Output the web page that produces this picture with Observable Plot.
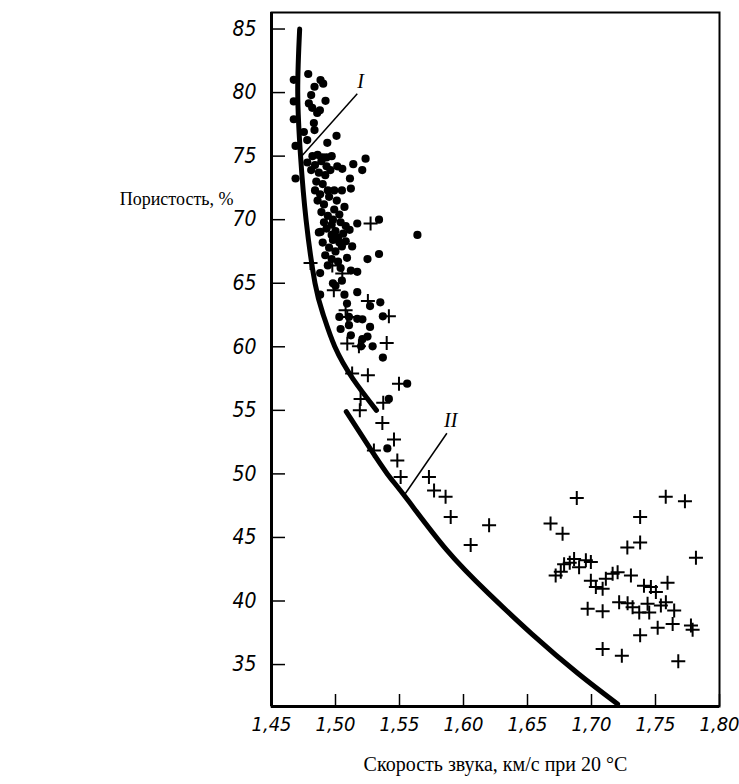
<!DOCTYPE html>
<html>
<head>
<meta charset="utf-8">
<script src="https://cdn.jsdelivr.net/npm/d3@7"></script>
<script src="https://cdn.jsdelivr.net/npm/@observablehq/plot@0.6"></script>
<style>
  html, body { margin: 0; padding: 0; background: #fff; }
  #chart { width: 739px; height: 784px; }
</style>
</head>
<body>
<div id="chart"></div>
<script>
// ---- Data ----
const xTicks = [1.45, 1.50, 1.55, 1.60, 1.65, 1.70, 1.75, 1.80];
const yTicks = [35, 40, 45, 50, 55, 60, 65, 70, 75, 80, 85];

// Filled circles
const dotsX = [1.4787,1.4674,1.4883,1.4904,1.4836,1.4674,1.481,1.4922,1.4792,1.4818,1.4878,1.4857,1.4674,1.4831,1.4836,1.4753,1.5008,1.4779,1.4936,1.4688,1.5235,1.5139,1.5209,1.5014,1.5053,1.5113,1.4688,
  1.482,1.486,1.490,1.478,1.484,1.489,1.493,1.481,1.487,1.492,1.496,1.485,1.490,1.484,1.488,1.494,1.499,1.505,1.512,1.486,1.491,1.501,1.507,1.489,1.494,1.498,1.504,1.508,1.487,1.493,1.497,1.502,1.506,1.511,1.517,1.534,1.490,1.495,1.500,1.505,1.513,1.492,1.497,1.502,1.509,1.525,1.534,1.517,1.488,1.498,1.500,1.505,1.488,1.507,1.517,1.509,1.527,1.535,1.503,1.5105,1.517,1.521,1.527,1.537,1.504,1.5105,1.512,1.521,1.525,1.529,1.520,1.537,1.564,1.556,1.5417,1.5405,1.4883,
  1.495,1.499,1.503,1.491,1.497,1.500,1.503,1.508,1.498,1.494,1.504,1.512,1.493,1.497];
const dotsY = [81.46,81.0,80.98,80.7,80.46,79.3,79.8,79.35,79.15,78.8,78.6,78.4,77.9,77.6,77.05,76.9,76.6,76.26,76.05,75.8,74.8,74.37,73.9,74.2,74.0,73.24,73.24,
  75.0,75.1,74.9,74.5,74.3,74.6,74.2,73.9,73.7,73.5,73.9,73.0,72.8,72.3,72.0,72.3,72.3,72.3,72.45,71.5,71.2,71.5,71.0,70.6,70.3,70.0,69.8,69.5,69.0,69.3,68.8,68.6,68.9,69.2,69.7,70.0,68.2,67.8,67.5,67.9,67.9,67.2,66.9,66.7,67.0,66.9,67.3,65.9,65.8,65.0,64.8,65.2,64.1,64.1,64.3,63.4,63.2,63.5,62.35,62.35,62.2,62.16,61.56,62.4,61.4,61.7,60.9,60.6,60.8,60.04,60.04,59.15,68.8,57.1,55.9,52.0,69.04,
  71.8,70.8,70.4,69.8,69.6,69.1,68.2,68.3,68.4,66.4,66.2,66.0,74.9,75.0];

// Crosses
const plusX = [1.5274,1.4805,1.4975,1.5053,1.4987,1.5079,1.5092,1.5253,1.5417,1.5092,1.5183,1.54,1.513,1.5253,1.5496,1.5196,1.519,1.5373,1.5366,1.5457,1.53,1.5483,1.5509,
  1.573,1.577,1.586,1.590,1.620,1.6056,1.668,1.6774,1.6885,
  1.6786,1.6864,1.6903,1.6956,1.6995,1.676,1.672,1.683,
  1.6995,1.7034,1.7087,1.7112,1.7165,1.7204,1.7308,
  1.7216,1.7282,1.7321,1.7373,
  1.741,1.7464,1.7503,1.7594,
  1.7438,1.7451,1.7542,1.7581,1.7646,
  1.697,1.7087,
  1.7517,1.7634,1.7777,1.779,1.738,
  1.7087,1.7237,1.7678,
  1.758,1.773,1.738,1.738,1.728,1.7816];
const plusY = [69.7,66.6,66.4,65.76,64.45,62.87,62.35,63.6,62.4,60.25,60.04,60.3,57.9,57.76,57.1,55.9,55.0,55.6,54.0,52.7,51.85,51.06,49.75,
  49.75,48.7,48.2,46.6,45.95,44.4,46.1,45.3,48.1,
  42.9,43.3,42.66,43.2,43.06,42.3,42.0,43.0,
  41.6,41.1,40.96,41.75,42.14,42.27,42.0,
  39.9,39.83,39.5,39.1,
  41.2,41.1,40.7,41.43,
  39.78,39.1,39.65,39.9,39.25,
  39.4,39.2,
  37.89,38.2,38.07,37.73,37.3,
  36.23,35.7,35.26,
  48.2,47.85,46.6,44.6,44.2,43.4];

// Curve I and curve II
const curve1X = [1.472, 1.4705, 1.4727, 1.477, 1.484, 1.4905, 1.4995, 1.5135, 1.532];
const curve1Y = [85, 80, 75, 70, 65, 62.5, 60, 57.5, 55];
const curve2X = [1.5084, 1.527, 1.5405, 1.556, 1.587, 1.6195, 1.6535, 1.6895, 1.7204];
const curve2Y = [54.9, 52.0, 50.0, 48.0, 44.0, 40.6, 37.4, 34.3, 31.9];

// Curve labels and leader lines
const labelNames = ["I", "II"];
const labelX = [1.5196, 1.590];
const labelY = [80.85, 54.2];
const leaderX1 = [1.4735, 1.5535];
const leaderY1 = [75.0, 48.3];
const leaderX2 = [1.517, 1.587];
const leaderY2 = [79.9, 53.2];

const xTitle = "Скорость звука, км/с при 20 °C";
const yTitle = "Пористость, %";

// ---- Build tables ----
const dots = dotsX.map((x, i) => ({x, y: dotsY[i]}));
const pluses = plusX.map((x, i) => ({x, y: plusY[i]}));
const c1 = curve1X.map((x, i) => ({x, y: curve1Y[i]}));
const c2 = curve2X.map((x, i) => ({x, y: curve2Y[i]}));
const labels = labelNames.map((t, i) => ({t, x: labelX[i], y: labelY[i]}));
const leaders = leaderX1.map((x1, i) => ({x1, y1: leaderY1[i], x2: leaderX2[i], y2: leaderY2[i]}));

const fmt = d => d.toFixed(2).replace(".", ",");

const crossSymbol = {
  draw(context, size) {
    const r = Math.sqrt(size / Math.PI);
    context.moveTo(-r, 0); context.lineTo(r, 0);
    context.moveTo(0, -r); context.lineTo(0, r);
  }
};

const W = 739, H = 784;
const mL = 271, mR = 20, mT = 12, mB = 78;
const frameW = W - mL - mR, frameH = H - mT - mB;
const tickFont = "'Liberation Sans Narrow', 'DejaVu Sans Condensed', sans-serif";

const chart = Plot.plot({
  width: W,
  height: H,
  marginLeft: mL,
  marginRight: mR,
  marginTop: mT,
  marginBottom: mB,
  style: {background: "#fff", color: "#000", fontFamily: tickFont},
  x: {domain: [1.45, 1.80], label: null},
  y: {domain: [31.7, 86.3], label: null},
  marks: [
    Plot.frame({stroke: "#000", strokeWidth: 2}),
    Plot.ruleX([1.45], {stroke: "#000", strokeWidth: 3}),
    Plot.ruleY([31.7], {stroke: "#000", strokeWidth: 3}),
    Plot.tickX(xTicks, {x: d => d, insetTop: frameH - 12, stroke: "#000", strokeWidth: 1.5}),
    Plot.tickY(yTicks, {y: d => d, insetRight: frameW - 14, stroke: "#000", strokeWidth: 1.5}),
    Plot.axisX({ticks: xTicks, tickSize: 0, tickPadding: 10, tickFormat: fmt, fontSize: 20, fontStyle: "italic", fontFamily: tickFont, label: null}),
    Plot.axisY({ticks: yTicks, tickSize: 0, tickPadding: 15, tickFormat: d => String(d), fontSize: 21, fontStyle: "italic", fontFamily: tickFont, label: null}),
    Plot.line(c1, {x: "x", y: "y", curve: "natural", stroke: "#000", strokeWidth: 5}),
    Plot.line(c2, {x: "x", y: "y", curve: "natural", stroke: "#000", strokeWidth: 5}),
    Plot.link(leaders, {x1: "x1", y1: "y1", x2: "x2", y2: "y2", stroke: "#000", strokeWidth: 1.5}),
    Plot.text(labels, {x: "x", y: "y", text: "t", fontSize: 20, fontStyle: "italic", fontFamily: "'Liberation Serif', serif"}),
    Plot.dot(dots, {x: "x", y: "y", r: 4.1, fill: "#000", stroke: "none"}),
    Plot.dot(pluses, {x: "x", y: "y", r: 7, symbol: crossSymbol, fill: "none", stroke: "#000", strokeWidth: 2}),
    Plot.text([xTitle], {frameAnchor: "bottom", dy: 64, fontSize: 20, fontFamily: "'Liberation Serif', serif", fontStyle: "normal"}),
    Plot.text([yTitle], {frameAnchor: "top-left", textAnchor: "end", dx: -38, dy: 180, fontSize: 18, fontFamily: "'Liberation Serif', serif", fontStyle: "normal"})
  ]
});
document.getElementById("chart").appendChild(chart);
</script>
</body>
</html>
